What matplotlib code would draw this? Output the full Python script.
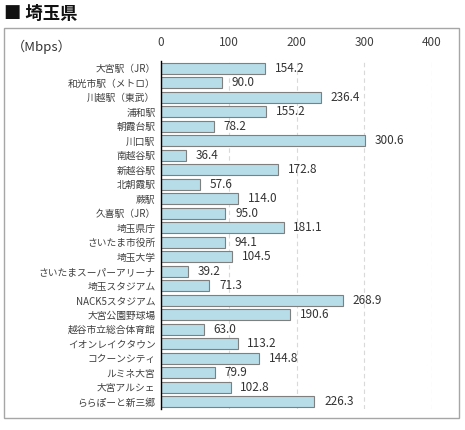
import matplotlib
matplotlib.use("Agg")
import matplotlib.pyplot as plt
from matplotlib.patches import Rectangle

plt.rcParams['font.family'] = ['Noto Sans CJK JP', 'DejaVu Sans']

categories = ["大宮駅（JR）", "和光市駅（メトロ）", "川越駅（東武）", "浦和駅", "朝霞台駅", "川口駅",
              "南越谷駅", "新越谷駅", "北朝霞駅", "蕨駅", "久喜駅（JR）", "埼玉県庁", "さいたま市役所",
              "埼玉大学", "さいたまスーパーアリーナ", "埼玉スタジアム", "NACK5スタジアム", "大宮公園野球場",
              "越谷市立総合体育館", "イオンレイクタウン", "コクーンシティ", "ルミネ大宮", "大宮アルシェ",
              "ららぽーと新三郷"]
values = [154.2, 90.0, 236.4, 155.2, 78.2, 300.6, 36.4, 172.8, 57.6, 114.0, 95.0, 181.1, 94.1,
          104.5, 39.2, 71.3, 268.9, 190.6, 63.0, 113.2, 144.8, 79.9, 102.8, 226.3]
xticks = [0, 100, 200, 300, 400]
title = "■ 埼玉県"
unit = "（Mbps）"

W, H = 465, 430
fig = plt.figure(figsize=(W / 100, H / 100), dpi=100)
fig.patch.set_facecolor("white")

# outer frame
fig.patches.append(Rectangle((4 / W, 1 - 418 / H), (459 - 4) / W, (418 - 28) / H,
                             transform=fig.transFigure, fill=False, edgecolor="#a6a6a6", linewidth=1.0))

fig.text(4 / W, 1 - 14 / H, title, fontsize=12.5, fontweight="bold", va="center", ha="left", color="#111111")
fig.text(12 / W, 1 - 47 / H, unit, fontsize=9.5, va="center", ha="left", color="#333333")

n = len(categories)
left, right = 161 / W, 432 / W
top, bottom = 1 - 61 / H, 1 - 409 / H
ax = fig.add_axes([left, bottom, right - left, top - bottom])
ypos = list(range(n))
ax.barh(ypos, values, height=0.76, color="#b7dde8", edgecolor="#7f7f7f", linewidth=0.8, zorder=3)
ax.set_ylim(n - 0.5, -0.5)
ax.set_xlim(0, 400)
ax.set_xticks(xticks)
ax.xaxis.tick_top()
ax.tick_params(axis="x", length=0, pad=9, labelsize=8.5, labelcolor="#404040")
ax.set_yticks(ypos)
ax.set_yticklabels(categories)
ax.tick_params(axis="y", length=0, pad=4, labelsize=7, labelcolor="#404040")
for s in ["top", "right", "bottom"]:
    ax.spines[s].set_visible(False)
ax.spines["left"].set_color("#000000")
ax.spines["left"].set_linewidth(1.0)
ax.spines["left"].set_zorder(4)
ax.grid(axis="x", linestyle=(0, (4, 3)), color="#d9d9d9", linewidth=0.8, zorder=0)
ax.set_axisbelow(True)
for y, v in zip(ypos, values):
    ax.annotate(f"{v:.1f}", (v, y), xytext=(7, 0), textcoords="offset points",
                va="center", ha="left", fontsize=8.5, color="#333333")

fig.savefig("out.png", dpi=100, facecolor="white")
